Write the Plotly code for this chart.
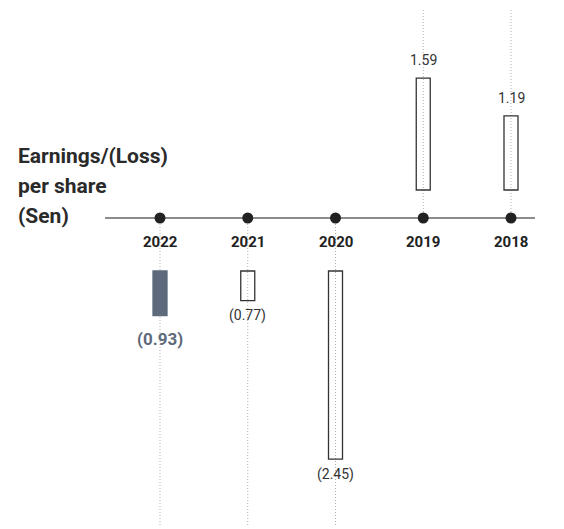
import plotly.graph_objects as go

years = ["2022", "2021", "2020", "2019", "2018"]
eps = [-0.93, -0.77, -2.45, 1.59, 1.19]
labels = ["(0.93)", "(0.77)", "(2.45)", "1.59", "1.19"]
title_lines = ["Earnings/(Loss)", "per share", "(Sen)"]

W, H = 564, 529
PX_PER_UNIT = 94.3
ZERO_PX = 228          # pixel row of value 0
LINE_PX = 218          # pixel row of the decorative timeline
X0_PX, DX_PX = 160, 87.75
FONT = "Roboto, Arial, sans-serif"
SLATE = "#5e6a7b"

ytop = ZERO_PX / PX_PER_UNIT
ybot = -(H - ZERO_PX) / PX_PER_UNIT
xlo = -X0_PX / DX_PX
xhi = (W - X0_PX) / DX_PX
line_paper = 1 - LINE_PX / H

gap_pos = 38 / PX_PER_UNIT
gap_neg = 43 / PX_PER_UNIT

xs = list(range(len(years)))
bases = [gap_pos if v > 0 else -gap_neg for v in eps]
lengths = [v - b for v, b in zip(eps, bases)]
fills = [SLATE if y == "2022" else "rgba(0,0,0,0)" for y in years]
outlines = [SLATE if y == "2022" else "#333333" for y in years]

fig = go.Figure()

# dotted guide lines
for x, v in zip(xs, eps):
    if v > 0:
        y0, y1 = line_paper, 1 - 10 / H
    else:
        y0, y1 = line_paper, 4 / H
    fig.add_shape(type="line", x0=x, x1=x, y0=y0, y1=y1, xref="x", yref="paper",
                  line=dict(color="#b0b0b0", width=1, dash="1px,2px"), layer="below")

# timeline
fig.add_shape(type="line", x0=(105 - X0_PX) / DX_PX, x1=(535 - X0_PX) / DX_PX,
              y0=line_paper, y1=line_paper, xref="x", yref="paper",
              line=dict(color="#666666", width=1.5), layer="below")

fig.add_trace(go.Bar(x=xs, y=lengths, base=bases, width=14 / DX_PX,
                     marker=dict(color=fills, line=dict(color=outlines, width=1.3)),
                     hoverinfo="skip"))

for x, y in zip(xs, years):
    fig.add_shape(type="circle", xref="x", yref="paper", xsizemode="pixel", ysizemode="pixel",
                  xanchor=x, yanchor=line_paper, x0=-5.5, x1=5.5, y0=-5.5, y1=5.5,
                  fillcolor="#222222", line=dict(width=0))
    fig.add_annotation(x=x, y=line_paper, yref="paper", text="<b>" + y + "</b>",
                       showarrow=False, yanchor="middle", yshift=-24,
                       font=dict(family=FONT, size=15, color="#222222"))

for x, v, lab, yr in zip(xs, eps, labels, years):
    hl = yr == "2022"
    if v > 0:
        fig.add_annotation(x=x, y=v, text=lab, showarrow=False, yshift=18,
                           font=dict(family=FONT, size=14, color="#333333"))
    else:
        fig.add_annotation(x=x, y=v, text=("<b>" + lab + "</b>") if hl else lab,
                           showarrow=False, yshift=-23 if hl else -15,
                           font=dict(family=FONT, size=17 if hl else 14,
                                     color=SLATE if hl else "#333333"))

for i, line in enumerate(title_lines):
    fig.add_annotation(x=16 / W, y=1 - (156 + 30 * i) / H, xref="paper", yref="paper",
                       text="<b>" + line + "</b>", showarrow=False, xanchor="left", yanchor="middle",
                       font=dict(family=FONT, size=21, color="#2a2a2a"))

fig.update_layout(width=W, height=H, margin=dict(l=0, r=0, t=0, b=0),
                  paper_bgcolor="white", plot_bgcolor="white", showlegend=False,
                  xaxis=dict(range=[xlo, xhi], visible=False, fixedrange=True),
                  yaxis=dict(range=[ybot, ytop], visible=False, fixedrange=True))

fig.write_html("out.html")
